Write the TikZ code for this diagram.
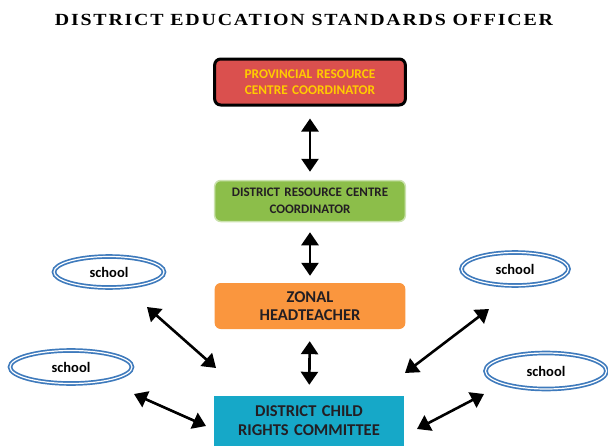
\documentclass[tikz,border=0pt]{standalone}
\usepackage{fontspec}
\setmainfont{Carlito}
\newfontfamily\titlefont[LetterSpace=9]{Liberation Serif}
\usetikzlibrary{shapes.geometric, arrows.meta, positioning}
\definecolor{prcred}{RGB}{218,80,78}
\definecolor{prctext}{RGB}{255,204,0}
\definecolor{drcgreen}{RGB}{140,190,74}
\definecolor{zhorange}{RGB}{250,150,62}
\definecolor{dcrccyan}{RGB}{22,168,200}
\definecolor{schoolblue}{RGB}{62,122,188}
\definecolor{darktext}{RGB}{35,30,35}
\tikzstyle{arrow} = [line width=2.6pt,{Triangle[length=13pt,width=17pt]}-{Triangle[length=13pt,width=17pt]}]
\tikzstyle{vertarrow} = [arrow, shorten <=12pt, shorten >=8pt]
\tikzstyle{level} = [rectangle, rounded corners=6pt, minimum width=185pt, minimum height=46pt, text width=184pt, align=center, text=darktext]
\tikzstyle{school} = [ellipse, draw=schoolblue, line width=1.7pt, double=white, double distance=1.2pt, minimum width=110pt, minimum height=31pt, inner sep=0pt, font=\bfseries\fontsize{14.5}{16}\selectfont]

\begin{document}
\begin{tikzpicture}[x=1pt, y=1pt, node distance=119pt]
\useasboundingbox (0,0) rectangle (608,-447);

\node (title) at (304,-20) {\scalebox{1.17}[1]{\titlefont\bfseries\fontsize{17}{20}\selectfont DISTRICT EDUCATION STANDARDS OFFICER}};

\node (prc) [level, draw=black, line width=3pt, fill=prcred, text=prctext, minimum width=188pt, minimum height=46pt, font=\bfseries\fontsize{13.3}{16}\selectfont] at (310,-82) {PROVINCIAL RESOURCE\\CENTRE COORDINATOR};
\node (drc) [level, draw=drcgreen!45, line width=1.5pt, fill=drcgreen, minimum height=41pt, font=\bfseries\fontsize{13}{17}\selectfont, below of=prc] {DISTRICT RESOURCE CENTRE\\COORDINATOR};
\node (zh) [level, fill=zhorange, font=\bfseries\fontsize{16.5}{18}\selectfont, below of=drc, yshift=14pt] {ZONAL\\HEADTEACHER};
\node (dcrc) [level, rounded corners=0pt, fill=dcrccyan, minimum width=182pt, minimum height=50pt, font=\bfseries\fontsize{16.5}{19}\selectfont, below of=zh, yshift=4pt, xshift=-1pt] {DISTRICT CHILD\\RIGHTS COMMITTEE};

\node (schooltl) [school] at (109,-272) {school};
\node (schoolbl) [school, minimum width=122pt, minimum height=33pt] at (71,-367) {school};
\node (schooltr) [school, minimum width=107pt, minimum height=33pt] at (515,-269) {school};
\node (schoolbr) [school, minimum width=121pt, minimum height=36pt] at (546,-371) {school};

\coordinate (tl_s) at (147,-307);
\coordinate (tl_e) at (216,-368);
\coordinate (bl_s) at (134,-394);
\coordinate (bl_e) at (206,-426);
\coordinate (tr_s) at (489,-309);
\coordinate (tr_e) at (405,-373);
\coordinate (br_s) at (484,-394);
\coordinate (br_e) at (417,-429);

\draw [vertarrow] (prc) -- (drc);
\draw [vertarrow, shorten <=10pt, shorten >=7pt] (drc) -- (zh);
\draw [vertarrow, shorten <=12pt, shorten >=11pt] (zh) -- (dcrc);
\draw [arrow] (tl_s) -- (tl_e);
\draw [arrow] (bl_s) -- (bl_e);
\draw [arrow] (tr_s) -- (tr_e);
\draw [arrow] (br_s) -- (br_e);

\end{tikzpicture}
\end{document}
